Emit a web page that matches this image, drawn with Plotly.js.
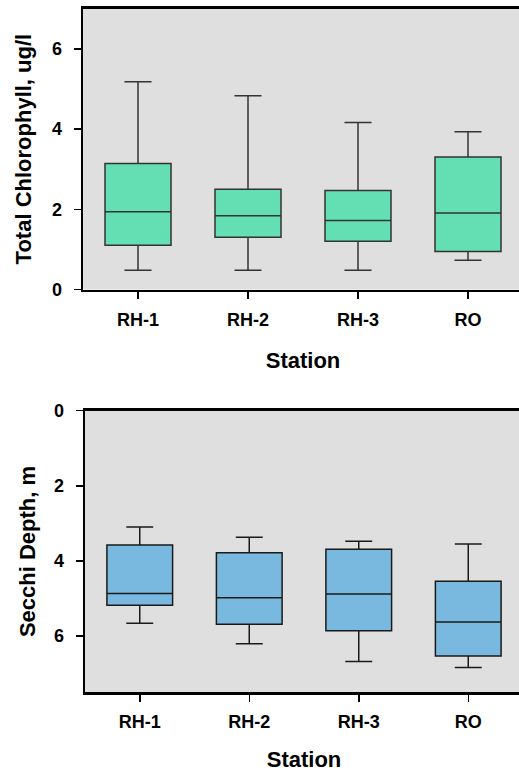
<!DOCTYPE html>
<html>
<head>
<meta charset="utf-8">
<script src="https://cdn.plot.ly/plotly-3.0.1.min.js"></script>
<style>
html, body { margin:0; padding:0; background:#fff; overflow:hidden; width:519px; height:772px; }
#chart { width:530px; height:772px; }
</style>
</head>
<body>
<div id="chart"></div>
<script>
// Data
const stations = ["RH-1", "RH-2", "RH-3", "RO"];

// Total Chlorophyll, ug/l
const chlLow    = [0.48, 0.48, 0.48, 0.73];
const chlQ1     = [1.10, 1.30, 1.20, 0.95];
const chlMedian = [1.94, 1.84, 1.72, 1.91];
const chlQ3     = [3.14, 2.50, 2.47, 3.30];
const chlHigh   = [5.18, 4.83, 4.16, 3.93];

// Secchi Depth, m
const secLow    = [3.10, 3.37, 3.48, 3.55];
const secQ1     = [3.58, 3.78, 3.69, 4.54];
const secMedian = [4.87, 4.98, 4.88, 5.63];
const secQ3     = [5.18, 5.69, 5.86, 6.53];
const secHigh   = [5.66, 6.21, 6.68, 6.84];

const W = 530, H = 772;
const font = "Liberation Sans, Arial, sans-serif";

const traces = [
  {
    type: "box", x: stations, q1: chlQ1, median: chlMedian, q3: chlQ3,
    lowerfence: chlLow, upperfence: chlHigh,
    xaxis: "x", yaxis: "y",
    width: 0.6, whiskerwidth: 0.41,
    fillcolor: "#64DFB4", line: { color: "#333333", width: 1.5 },
    boxpoints: false, hoverinfo: "skip", showlegend: false
  },
  {
    type: "box", x: stations, q1: secQ1, median: secMedian, q3: secQ3,
    lowerfence: secLow, upperfence: secHigh,
    xaxis: "x2", yaxis: "y2",
    width: 0.6, whiskerwidth: 0.41,
    fillcolor: "#7AB9DF", line: { color: "#1a1a1a", width: 1.5 },
    boxpoints: false, hoverinfo: "skip", showlegend: false
  }
];

const tickFont = { family: font, size: 18, color: "#000", weight: "bold" };
const titleFont = { family: font, size: 22, color: "#000", weight: "bold" };

function xAxis(anchor, domain, standoff) {
  return {
    anchor: anchor, domain: domain, type: "category",
    range: [-0.5, 3.5], showgrid: false, zeroline: false,
    showline: true, linecolor: "#000", linewidth: 2.5, mirror: true,
    ticks: "outside", ticklen: 7, tickwidth: 1.5, tickcolor: "#000",
    tickfont: tickFont, automargin: false, ticklabelstandoff: 5,
    title: { text: "Station", font: titleFont, standoff: standoff }
  };
}
function yAxis(anchor, domain, range, title, standoff) {
  return {
    anchor: anchor, domain: domain, range: range,
    tickvals: [0, 2, 4, 6], ticktext: ["0", "2", "4", "6"],
    showgrid: false, zeroline: false,
    showline: true, linecolor: "#000", linewidth: 2.5,
    ticks: "outside", ticklen: 7, tickwidth: 1.5, tickcolor: "#000",
    tickfont: tickFont, automargin: false, ticklabelstandoff: 8,
    title: { text: title, font: titleFont, standoff: standoff }
  };
}

const layout = {
  width: W, height: H,
  margin: { l: 83, r: W - 523, t: 0, b: 0 },
  paper_bgcolor: "#ffffff",
  plot_bgcolor: "#DFDFDF",
  font: { family: font },
  xaxis: xAxis("y", [0, 1], 24),
  yaxis: yAxis("x", [1 - 289.5 / H, 1 - 8.7 / H], [0, 7], "Total Chlorophyll, ug/l", 14),
  xaxis2: xAxis("y2", [2 / 440, 1], 28),
  yaxis2: yAxis("x2", [1 - 692.3 / H, 1 - 410.7 / H], [7.5, 0], "Secchi Depth, m", 12),
  showlegend: false
};

Plotly.newPlot("chart", traces, layout, { displayModeBar: false, staticPlot: true });
</script>
</body>
</html>
